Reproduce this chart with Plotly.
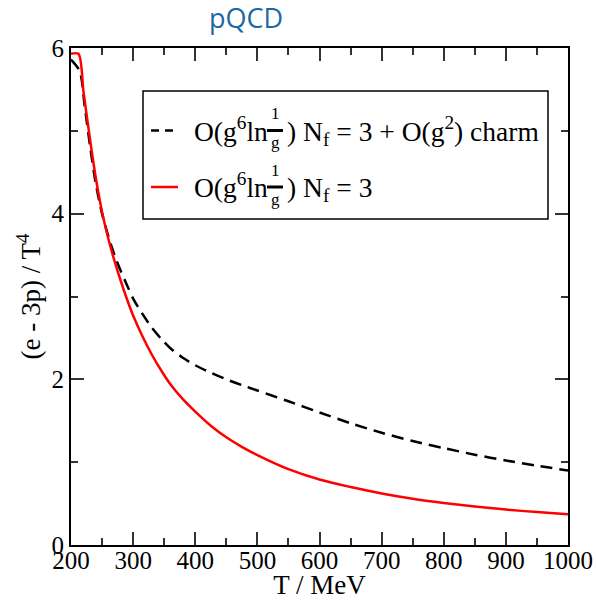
import plotly.graph_objects as go

# ---- data -------------------------------------------------------------
# O(g^6 ln 1/g), Nf = 3
T_nf3 = [200, 212, 220, 230, 240, 250, 260, 270, 280, 290, 300, 315, 330,
         345, 360, 380, 400, 425, 450, 475, 500, 550, 600, 650, 700, 750,
         800, 850, 900, 950, 1000]
trace_nf3 = [5.93, 5.93, 5.48, 4.93, 4.43, 4.02, 3.70, 3.43, 3.19, 2.97,
             2.77, 2.52, 2.30, 2.11, 1.94, 1.76, 1.61, 1.44, 1.30, 1.185,
             1.085, 0.915, 0.79, 0.70, 0.622, 0.559, 0.508, 0.464, 0.428,
             0.397, 0.37]

# O(g^6 ln 1/g), Nf = 3 + O(g^2) charm
T_charm = [200, 214, 222, 231, 240, 250, 260, 270, 280, 290, 300, 315, 330,
           345, 360, 380, 400, 425, 450, 475, 500, 550, 600, 650, 700, 750,
           800, 850, 900, 950, 1000]
trace_charm = [5.86, 5.72, 5.30, 4.80, 4.36, 4.00, 3.73, 3.50, 3.31, 3.14,
               2.975, 2.79, 2.625, 2.49, 2.375, 2.26, 2.17, 2.08, 2.00,
               1.93, 1.865, 1.735, 1.60, 1.47, 1.355, 1.255, 1.17, 1.09,
               1.02, 0.957, 0.90]

x_ticks = [200, 300, 400, 500, 600, 700, 800, 900, 1000]
y_ticks = [0, 2, 4, 6]

title_text = "pQCD"
x_title = "T / MeV"
y_title = "(e - 3p) / T<sup>4</sup>"
# legend rows; the gap after "ln" holds the stacked 1/g fraction
label_charm = "O(g<sup>6</sup>ln\u2002\u2009) N<sub>f</sub> = 3 + O(g<sup>2</sup>) charm"
label_nf3 = "O(g<sup>6</sup>ln\u2002\u2009) N<sub>f</sub> = 3"

# ---- layout geometry --------------------------------------------------
W, H = 596, 600
L, R, TOP, BOT = 71, 568, 48, 545


def px(x):
    return (x - L) / (R - L)


def py(y):
    return (BOT - y) / (BOT - TOP)


SERIF = "Liberation Serif"

fig = go.Figure()
fig.add_trace(go.Scatter(x=T_charm, y=trace_charm, mode="lines",
                         name="Nf = 3 + charm",
                         line=dict(color="black", width=2.5, dash="12px,7px",
                                   shape="spline", smoothing=0.8)))
fig.add_trace(go.Scatter(x=T_nf3, y=trace_nf3, mode="lines",
                         name="Nf = 3",
                         line=dict(color="#ff0000", width=2.5,
                                   shape="spline", smoothing=0.8)))

axis_common = dict(
    showline=True, linecolor="black", linewidth=2, mirror="ticks",
    ticks="inside", tickcolor="#333", tickwidth=1.5, ticklen=13,
    showgrid=False, zeroline=False, automargin=False,
    tickfont=dict(family=SERIF, size=25, color="black"),
)

fig.update_xaxes(range=[200, 1000], tickvals=x_ticks, ticklabelstandoff=-8,
                 minor=dict(dtick=50, ticks="inside", ticklen=7,
                            tickwidth=1.5, tickcolor="#333", showgrid=False),
                 title=dict(text=x_title, standoff=6,
                            font=dict(family=SERIF, size=27, color="black")),
                 **axis_common)
fig.update_yaxes(range=[0, 6], tickvals=y_ticks,
                 minor=dict(dtick=1, ticks="inside", ticklen=7,
                            tickwidth=1.5, tickcolor="#333", showgrid=False),
                 title=dict(text=y_title, standoff=3,
                            font=dict(family=SERIF, size=27, color="black")),
                 **axis_common)

shapes = [
    # legend frame
    dict(type="rect", xref="paper", yref="paper",
         x0=px(143), x1=px(548), y0=py(219), y1=py(91),
         line=dict(color="black", width=1.5), fillcolor="white", layer="above"),
    # legend samples
    dict(type="line", xref="paper", yref="paper",
         x0=px(151), x1=px(174), y0=py(130.5), y1=py(130.5),
         line=dict(color="black", width=2.5, dash="8px,6px"), layer="above"),
    dict(type="line", xref="paper", yref="paper",
         x0=px(151), x1=px(178), y0=py(187), y1=py(187),
         line=dict(color="#ff0000", width=2.5), layer="above"),
]
annotations = []
for row_y, label in [(130.5, label_charm), (187, label_nf3)]:
    annotations.append(dict(xref="paper", yref="paper", x=px(192), y=py(row_y),
                            xanchor="left", yanchor="middle", showarrow=False,
                            text=label,
                            font=dict(family=SERIF, size=27.5, color="black")))
    # stacked 1/g fraction
    annotations.append(dict(xref="paper", yref="paper", x=px(275), y=py(row_y - 17),
                            xanchor="center", yanchor="middle", showarrow=False,
                            text="1", font=dict(family=SERIF, size=17, color="black")))
    annotations.append(dict(xref="paper", yref="paper", x=px(275), y=py(row_y + 12),
                            xanchor="center", yanchor="middle", showarrow=False,
                            text="g", font=dict(family=SERIF, size=17, color="black")))
    shapes.append(dict(type="line", xref="paper", yref="paper",
                       x0=px(267), x1=px(283), y0=py(row_y), y1=py(row_y),
                       line=dict(color="black", width=3), layer="above"))

fig.update_layout(
    width=W, height=H,
    margin=dict(l=L, r=W - R, t=TOP, b=H - BOT, autoexpand=False),
    paper_bgcolor="white", plot_bgcolor="white",
    showlegend=False,
    title=dict(text=title_text, xref="container", yref="container",
               x=246 / W, y=1 - 19 / H, xanchor="center", yanchor="middle",
               font=dict(family="Open Sans", size=27, color="#1a69a4")),
    shapes=shapes,
    annotations=annotations,
)

fig.write_html("out.html")
